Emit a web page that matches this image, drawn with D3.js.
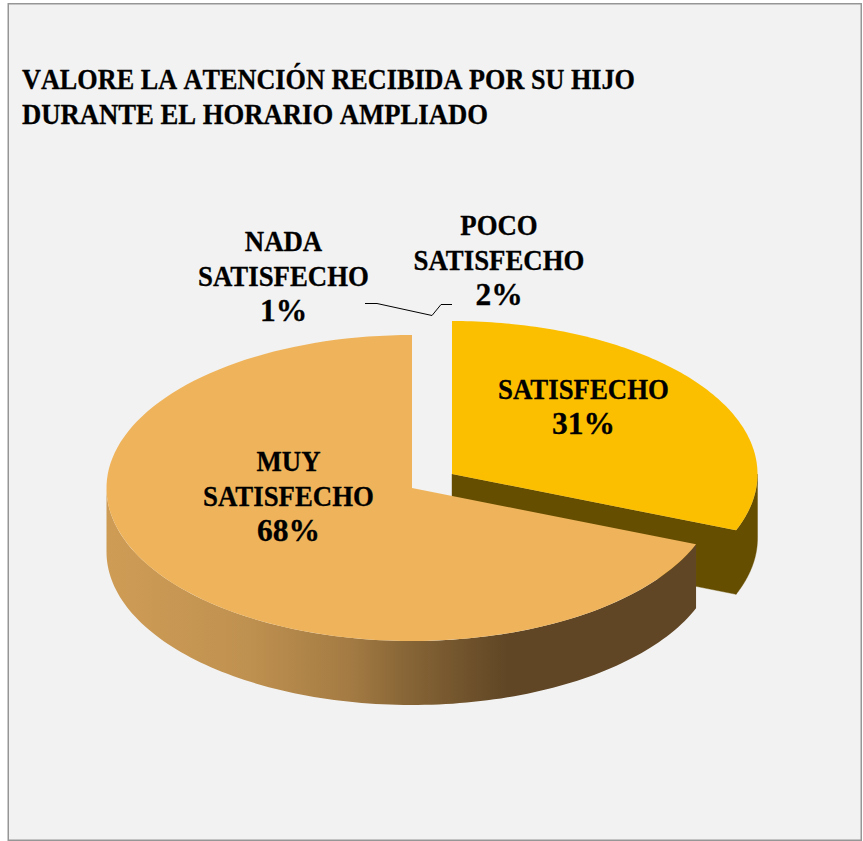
<!DOCTYPE html>
<html><head><meta charset="utf-8">
<script src="https://cdn.jsdelivr.net/npm/d3@7"></script>
<style>html,body{margin:0;padding:0;background:#fff}svg{display:block}</style>
</head><body><div id="c"></div>
<script>
// Data
const titleLines = ["VALORE LA ATENCIÓN RECIBIDA POR SU HIJO", "DURANTE EL HORARIO AMPLIADO"];
const categories = ["SATISFECHO", "MUY SATISFECHO", "NADA SATISFECHO", "POCO SATISFECHO"];
const labelPercents = [31, 68, 1, 2];
// Share of the circle each slice visibly fills: the two small ones are drawn with no width.
const drawnShares = [31, 69, 0, 0];
const topColors = ["#FCBF00", "#EFB45B", "#999999", "#999999"];
const wallColors = ["#664E00", "#664E00"];

const W = 863, H = 841;
const svg = d3.select("#c").append("svg").attr("width", W).attr("height", H);
const defs = svg.append("defs");
const grad = defs.append("linearGradient").attr("id", "wallGrad")
  .attr("gradientUnits", "userSpaceOnUse").attr("x1", 107).attr("x2", 696).attr("y1", 0).attr("y2", 0);
[[0, "#CF9C55"], [0.24, "#BF9150"], [0.41, "#A47B43"], [0.51, "#876536"], [0.68, "#604625"], [1, "#604625"]]
  .forEach(s => grad.append("stop").attr("offset", s[0]).attr("stop-color", s[1]));

svg.append("rect").attr("x", 8.25).attr("y", 3.75).attr("width", 853).attr("height", 836.5)
  .attr("fill", "#F2F2F2").attr("stroke", "#969696").attr("stroke-width", 1.5);

const fontFam = "'Liberation Serif', serif";
const titleWidths = [613, 466];
svg.append("g").selectAll("text").data(titleLines).join("text")
  .attr("x", 22).attr("y", (d, i) => 89 + i * 35)
  .attr("textLength", (d, i) => titleWidths[i]).attr("lengthAdjust", "spacingAndGlyphs")
  .style("font-kerning", "none")
  .attr("font-family", fontFam).attr("font-weight", 700).attr("font-size", 29).attr("fill", "#000")
  .attr("stroke", "#000").attr("stroke-width", 0.3)
  .text(d => d);

// Pie geometry
const pie = d3.pie().sort(null).value(d => d).startAngle(0).endAngle(2 * Math.PI);
const arcs = pie(drawnShares);
const rx = 305.5, ry = 153, depth = 64;
const centers = [[452, 474], [412, 488]];
const sx = d3.scaleLinear().domain([-1, 1]).range([-rx, rx]);
const sy = d3.scaleLinear().domain([-1, 1]).range([ry, -ry]);
const pt = (a, c, dz = 0) => [c[0] + sx(Math.sin(a)), c[1] + sy(Math.cos(a)) + dz];
const samples = (a0, a1) => d3.range(0, 121).map(i => a0 + (a1 - a0) * i / 120);
const line = d3.line();

function topPath(arc, c) {
  return line([c, ...samples(arc.startAngle, arc.endAngle).map(a => pt(a, c))]) + "Z";
}
function wallPath(a0, a1, c) {
  const s = samples(a0, a1);
  return line([...s.map(a => pt(a, c)), ...s.slice().reverse().map(a => pt(a, c, depth))]) + "Z";
}
function cutFacePath(a, c) {
  return line([c, pt(a, c), pt(a, c, depth), [c[0], c[1] + depth]]) + "Z";
}
const g = svg.append("g");
// Satisfecho (exploded, at the back): side and cut face share one colour, drawn as one shape
g.append("path").attr("d", cutFacePath(arcs[0].endAngle, centers[0]) + wallPath(Math.PI / 2, arcs[0].endAngle, centers[0]))
  .attr("fill", wallColors[0]).attr("stroke", wallColors[0]).attr("stroke-width", 0.4);
g.append("path").attr("d", topPath(arcs[0], centers[0])).attr("fill", topColors[0]);
// Muy satisfecho
g.append("path").attr("d", wallPath(arcs[1].startAngle, 3 * Math.PI / 2, centers[1])).attr("fill", "url(#wallGrad)");
g.append("path").attr("d", topPath(arcs[1], centers[1])).attr("fill", topColors[1]);

// Leader line
g.append("path").attr("fill", "none").attr("stroke", "#000").attr("stroke-width", 1)
  .attr("d", d3.line()([[365, 303.5], [377, 303.5], [432, 315.5], [441, 304.5], [452, 304.5]]));

// Labels
const labelSpec = [
  { lines: [categories[0], labelPercents[0] + "%"], x: 583.5, y: 399 },
  { lines: ["MUY", "SATISFECHO", labelPercents[1] + "%"], x: 288.5, y: 471 },
  { lines: ["NADA", "SATISFECHO", labelPercents[2] + "%"], x: 283.5, y: 251 },
  { lines: ["POCO", "SATISFECHO", labelPercents[3] + "%"], x: 499, y: 235 }
];
const lab = svg.append("g");
labelSpec.forEach(l => {
  lab.selectAll(null).data(l.lines).join("text")
    .attr("transform", (d, i) => `translate(${l.x},${l.y + i * 35}) scale(${/%/.test(d) ? 1.0 : 0.925},1)`)
    .attr("text-anchor", "middle").attr("font-family", fontFam).attr("font-weight", 700)
    .attr("font-size", d => /%/.test(d) ? 31.5 : 29).attr("fill", "#000").attr("stroke", "#000").attr("stroke-width", 0.3).text(d => d);
});
</script></body></html>
